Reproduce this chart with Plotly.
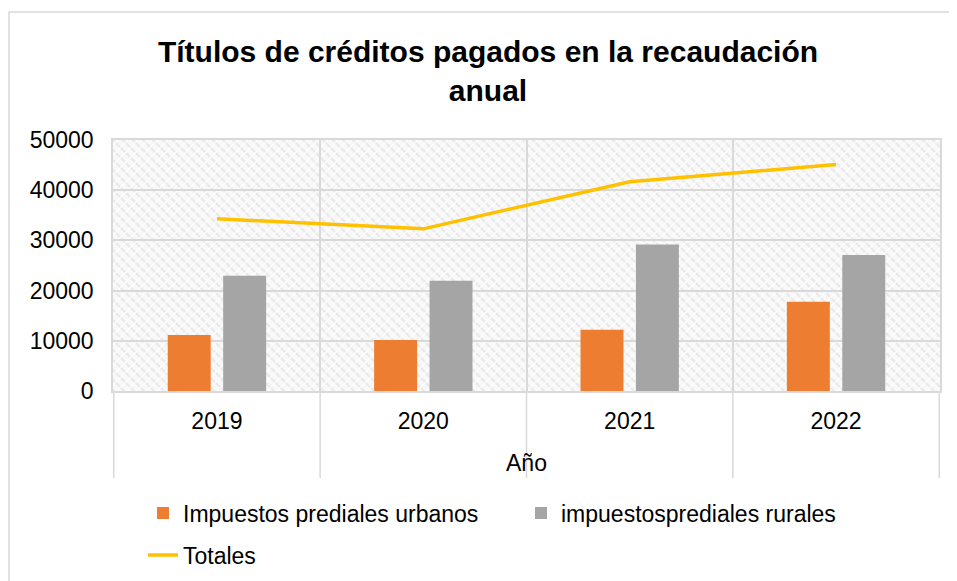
import base64
import plotly.graph_objects as go

years = ["2019", "2020", "2021", "2022"]
urbanos = [11150, 10150, 12200, 17800]
rurales = [22950, 21950, 29200, 27100]
totales = [34300, 32300, 41700, 45100]
y_ticks = [0, 10000, 20000, 30000, 40000, 50000]

OFF = 8  # page body margin
W, H = 957 - OFF, 581 - OFF
ML, MR, MT, MB = 113 - OFF, 17, 140 - OFF, 190
PW, PH = W - ML - MR, H - MT - MB

# helpers: page pixel -> paper / container coordinate
def px_x(p):
    return (p - OFF - ML) / PW

def px_y(p):
    return (H - MB - (p - OFF)) / PH

def cx(p):
    return (p - OFF) / W

def cy(p):
    return 1 - (p - OFF) / H

svg = (
    f"<svg xmlns='http://www.w3.org/2000/svg' width='{PW}' height='{PH}' preserveAspectRatio='none'>"
    "<defs><pattern id='p' width='10' height='10' patternUnits='userSpaceOnUse'>"
    "<rect width='10' height='10' fill='#F8F8F8'/>"
    "<path d='M0,0 L10,10 M-5,5 L5,15 M5,-5 L15,5' stroke='#EAEAEA' stroke-width='2'/>"
    "<path d='M0,5 L5,0 M5,10 L10,5' stroke='#FFFFFF' stroke-width='1.2'/>"
    "</pattern></defs><rect width='100%' height='100%' fill='url(#p)'/></svg>"
)
src = "data:image/svg+xml;base64," + base64.b64encode(svg.encode()).decode()

FONT = "Liberation Sans, Arial, sans-serif"
GRID = "#D9D9D9"

fig = go.Figure()
fig.add_trace(go.Bar(x=years, y=urbanos, name="Impuestos prediales urbanos",
                     marker=dict(color="#ED7D31", line=dict(width=0)), legend="legend"))
fig.add_trace(go.Bar(x=years, y=rurales, name="impuestosprediales rurales",
                     marker=dict(color="#A5A5A5", line=dict(width=0)), legend="legend"))
fig.add_trace(go.Scatter(x=years, y=totales, name="Totales", mode="lines",
                         line=dict(color="#FFC000", width=3.5), legend="legend2"))

shapes = []
shapes.append(dict(type="rect", xref="paper", yref="paper",
                   x0=px_x(9), x1=px_x(970), y0=px_y(595), y1=px_y(12),
                   line=dict(color=GRID, width=1.5), fillcolor="rgba(0,0,0,0)", layer="below"))
for i in range(len(years) + 1):
    shapes.append(dict(type="line", xref="x", yref="paper",
                       x0=i - 0.5, x1=i - 0.5, y0=0, y1=px_y(478),
                       line=dict(color=GRID, width=1.5)))

fig.update_layout(
    width=W, height=H,
    margin=dict(l=ML, r=MR, t=MT, b=MB, autoexpand=False),
    paper_bgcolor="white", plot_bgcolor="white",
    font=dict(family=FONT, size=23, color="black"),
    title=dict(text="<b>Títulos de créditos pagados en la recaudación<br>anual</b>",
               x=cx(488), xref="container", xanchor="center",
               y=1 - 54 / H, yref="container", yanchor="middle",
               font=dict(size=30, color="black", family=FONT)),
    barmode="group", bargap=0.463, bargroupgap=0.225,
    showlegend=True,
    legend=dict(orientation="h", xref="container", x=cx(143), xanchor="left",
                yref="container", y=cy(513), yanchor="middle", font=dict(size=23),
                entrywidth=333, entrywidthmode="pixels",
                bgcolor="rgba(0,0,0,0)", itemwidth=30),
    legend2=dict(orientation="h", xref="container", x=cx(143), xanchor="left",
                 yref="container", y=cy(555), yanchor="middle", font=dict(size=23),
                 bgcolor="rgba(0,0,0,0)", itemwidth=30),
    images=[dict(source=src, xref="paper", yref="paper", x=0, y=1, sizex=1, sizey=1,
                 xanchor="left", yanchor="top", sizing="stretch", layer="below")],
    shapes=shapes,
)
fig.update_xaxes(type="category", tickson="boundaries", showgrid=True, gridcolor=GRID, gridwidth=1.5,
                 showline=True, linecolor=GRID, linewidth=1.5, mirror=True,
                 ticks="", ticklabelstandoff=9, tickfont=dict(size=23),
                 title=dict(text="Año", font=dict(size=23), standoff=22))
fig.update_yaxes(range=[0, 50000], tickvals=y_ticks, ticktext=[str(v) for v in y_ticks],
                 showgrid=True, gridcolor=GRID, gridwidth=1.5,
                 showline=True, linecolor=GRID, linewidth=1.5, mirror=True,
                 zeroline=False, ticks="", ticklabelstandoff=13, tickfont=dict(size=23))

fig.write_html("out.html")
